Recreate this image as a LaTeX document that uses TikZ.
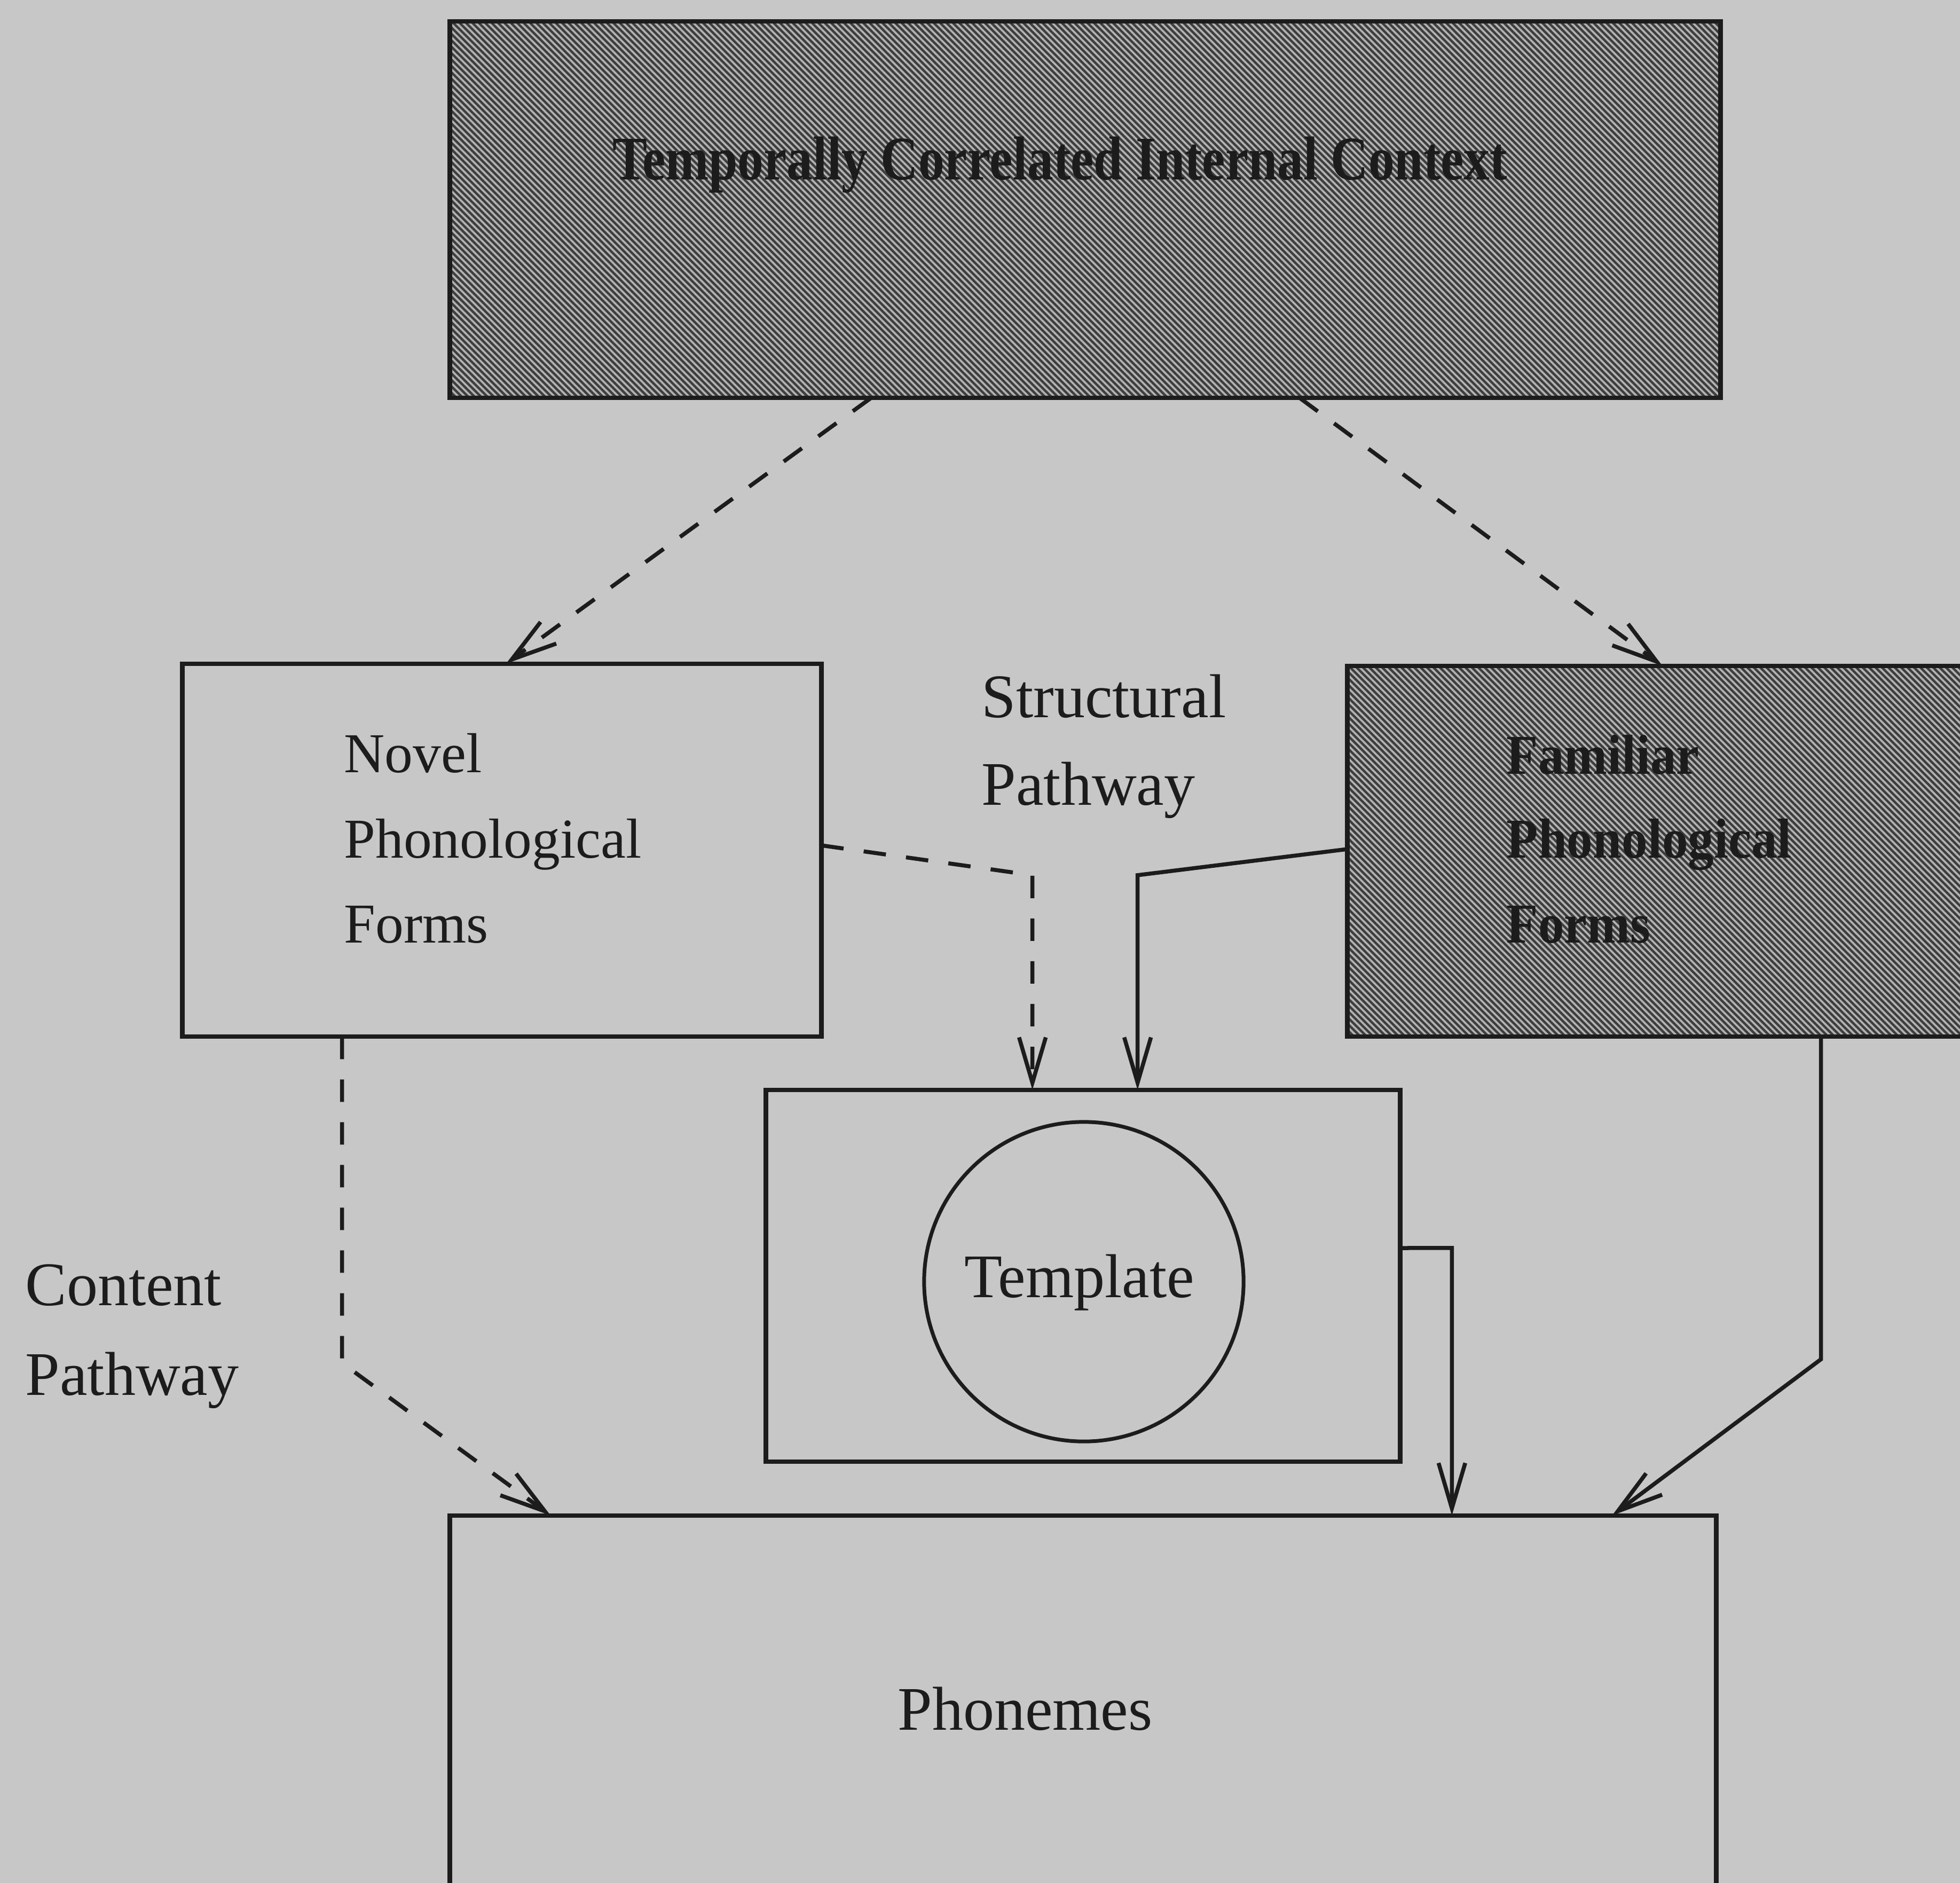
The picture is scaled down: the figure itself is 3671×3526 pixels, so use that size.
\documentclass[tikz,border=0pt]{standalone}
\usepackage{fontspec}
\usepackage{graphicx}
\setmainfont{Liberation Serif}
\usetikzlibrary{arrows.meta,calc}

\definecolor{paper}{RGB}{199,199,199}
\definecolor{ink}{RGB}{28,28,28}
\definecolor{hatchbase}{RGB}{178,178,178}
\definecolor{hatchink}{RGB}{62,62,62}

\tikzset{
  box/.style={draw=ink, line width=0.085cm, rectangle, inner sep=0pt, outer sep=0pt},
  conn/.style={draw=ink, line width=0.075cm, line join=miter,
    -{Straight Barb[length=0.85cm,width=0.5cm]}},
  dashedconn/.style={conn, dash pattern=on 0.42cm off 0.38cm},
  lbl/.style={text=ink, font=\fontsize{33}{40}\selectfont, inner sep=0pt},
  formlbl/.style={text=ink, font=\fontsize{30}{36}\selectfont, inner sep=0pt, anchor=base west},
  hatchline/.style={draw=hatchink, line width=0.045cm},
}

% diagonal hatching inside a rectangle given by two corners
\newcommand{\hatchrect}[4]{%
  \begin{scope}
    \clip (#1,#2) rectangle (#3,#4);
    \fill[hatchbase] (#1,#2) rectangle (#3,#4);
    \pgfmathtruncatemacro{\nlines}{((#3-#1)+(#4-#2))/12+2}
    \foreach \i in {0,...,\nlines}{
      \draw[hatchline] ({#1-(#4-#2)+\i*12},#2) -- ++({#4-#2},{#4-#2});
    }
  \end{scope}}

\begin{document}
\begin{tikzpicture}[x=0.01cm, y=-0.01cm]
  \fill[paper] (0,0) rectangle (3671,3526);
  \useasboundingbox (0,0) rectangle (3671,3526);

  % shaded boxes
  \hatchrect{843}{40}{3222}{745}
  \hatchrect{2524}{1247}{3720}{1941}

  % boxes
  \node[box, minimum width=23.79cm, minimum height=7.05cm] (top) at (2032.5,392.5) {};
  \node[text=ink, font=\fontsize{33}{40}\selectfont\bfseries, inner sep=0pt] (toplbl) at (1985,309)
    {\scalebox{0.84}[1]{Temporally Correlated Internal Context}};

  \node[box, minimum width=11.96cm, minimum height=6.98cm] (novel) at (940,1592) {};
  \node[formlbl] (nov1) at (644,1446) {Novel};
  \node[formlbl] (nov2) at (644,1606) {Phonological};
  \node[formlbl] (nov3) at (644,1765) {Forms};

  \node[box, minimum width=11.96cm, minimum height=6.94cm] (familiar) at (3122,1594) {};
  \node[formlbl, font=\fontsize{30}{36}\selectfont\bfseries] (fam1) at (2821,1449) {\scalebox{0.92}[1]{Familiar}};
  \node[formlbl, font=\fontsize{30}{36}\selectfont\bfseries] (fam2) at (2821,1606) {\scalebox{0.92}[1]{Phonological}};
  \node[formlbl, font=\fontsize{30}{36}\selectfont\bfseries] (fam3) at (2821,1765) {\scalebox{0.92}[1]{Forms}};

  \node[box, minimum width=11.87cm, minimum height=6.96cm] (tmplbox) at (2028.5,2389) {};
  \node[draw=ink, line width=0.07cm, circle, minimum size=5.98cm, inner sep=0pt] (tmpl) at (2030,2400) {};
  \node[lbl] (tmpltxt) at (2022,2402) {Template};

  \node[box, minimum width=23.71cm, minimum height=7.10cm] (phon) at (2028.5,3193) {};
  \node[lbl] (phontxt) at (1920,3200) {Phonemes};

  % pathway labels
  \node[lbl, anchor=base west] (struct1) at (1838,1343) {Structural};
  \node[lbl, anchor=base west] (struct2) at (1838,1507) {Pathway};
  \node[lbl, anchor=base west] (cont1) at (47,2444) {Content};
  \node[lbl, anchor=base west] (cont2) at (47,2612) {Pathway};

  % connectors from the context
  \draw[dashedconn] ($(top.south west)+(789,0)$) -- ($(novel.north west)+(606,0)$);
  \draw[dashedconn] ($(top.south west)+(1592,0)$) -- ($(familiar.north west)+(590,0)$);

  % structural pathway
  \draw[dashedconn] ($(novel.east)+(0,-9)$) -- ($(tmplbox.north west)+(499,-402)$)
    -- ($(tmplbox.north west)+(499,0)$);
  \draw[conn] ($(familiar.west)+(0,-4)$) -- ($(tmplbox.north west)+(696,-402)$)
    -- ($(tmplbox.north west)+(696,0)$);

  % into the phonemes
  \draw[conn] ($(tmplbox.east)+(0,-52)$) -- ($(phon.north west)+(1877,-501)$)
    -- ($(phon.north west)+(1877,0)$);
  \draw[conn] ($(familiar.south west)+(887,0)$) -- ($(familiar.south west)+(887,604)$)
    -- ($(phon.north west)+(2177,0)$);

  % content pathway
  \draw[dashedconn] ($(novel.south west)+(299,0)$) -- ($(novel.south west)+(299,611)$)
    -- ($(phon.north west)+(189,0)$);
\end{tikzpicture}
\end{document}
